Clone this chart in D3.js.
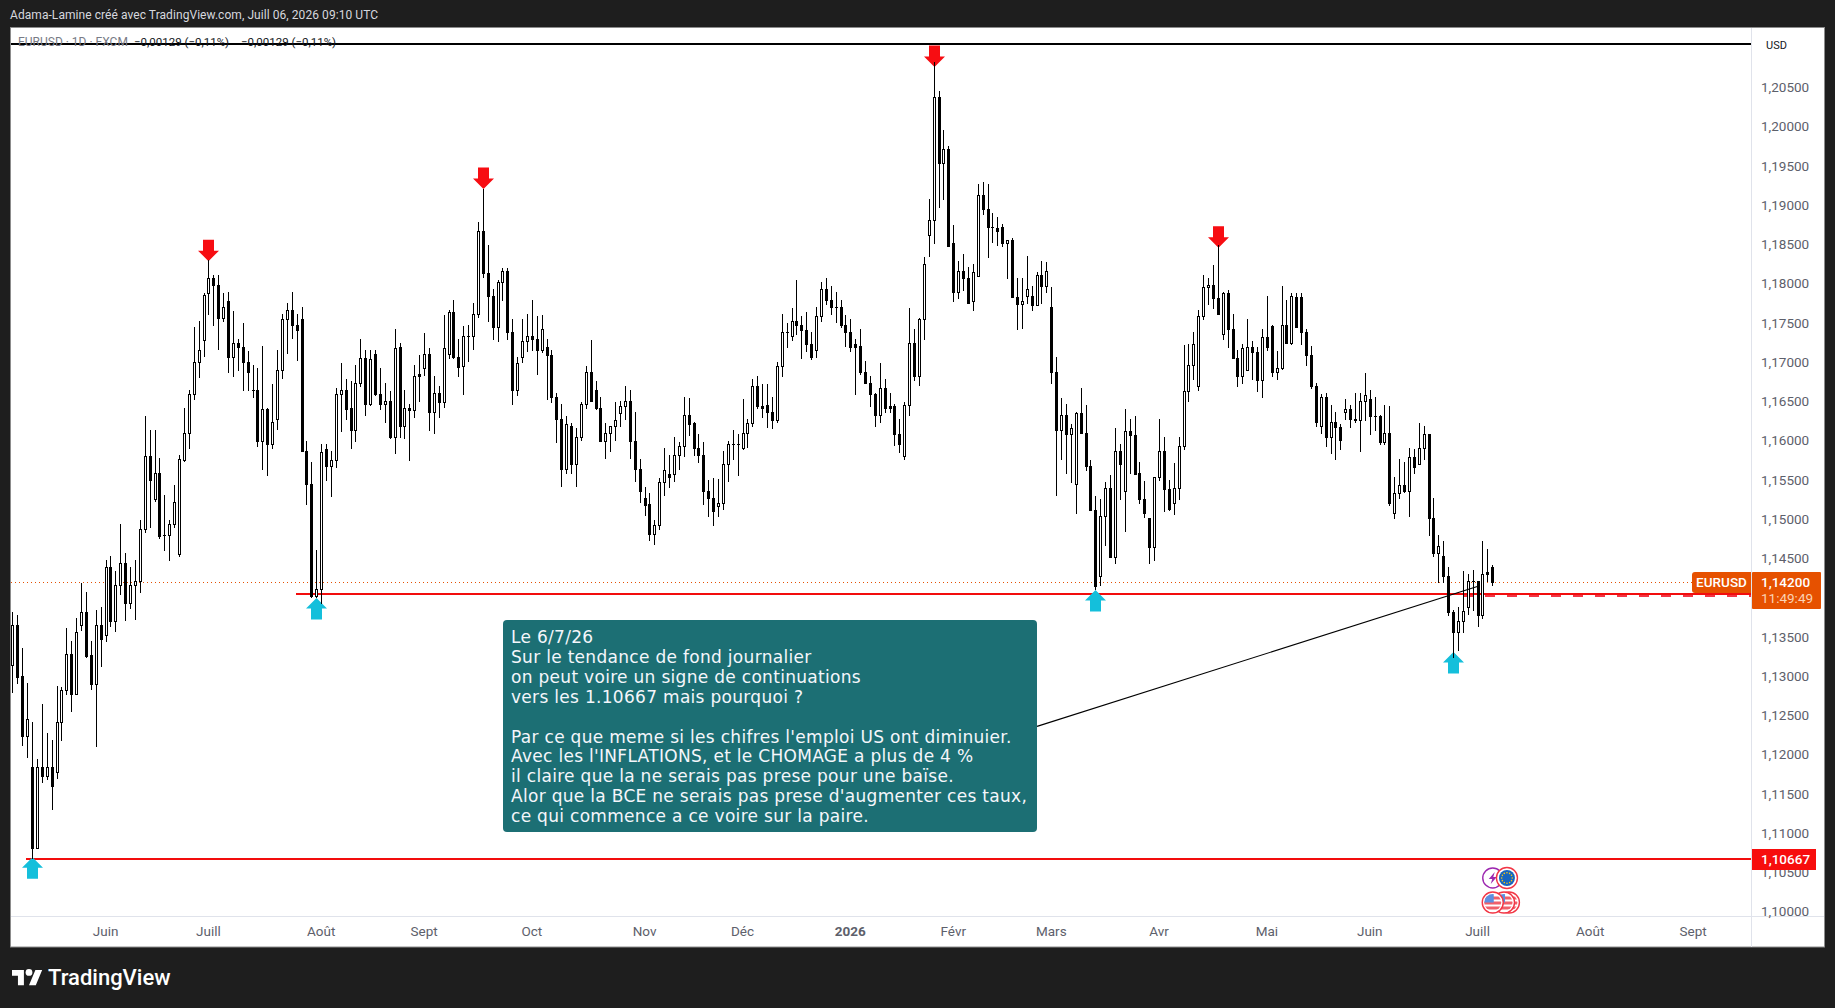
<!DOCTYPE html>
<html><head><meta charset="utf-8">
<script src="https://cdn.jsdelivr.net/npm/d3@7"></script>
<style>html,body{margin:0;padding:0;background:#1e1e1e;overflow:hidden}svg{display:block}</style>
</head><body><svg id="c" width="1835" height="1008"></svg>
<script>
// Daily EURUSD candles, prices in units of 0.0001
const highs=[11382,11378,11336,11292,11242,11194,11265,11228,11219,11288,
11286,11362,11345,11375,11419,11407,11345,11384,11389,11449,
11454,11435,11495,11457,11439,11448,11500,11632,11615,11615,
11579,11531,11500,11544,11582,11642,11666,11746,11754,11789,
11831,11812,11812,11789,11791,11766,11730,11751,11715,11698,
11693,11722,11643,11673,11717,11762,11776,11790,11762,11771,
11600,11573,11461,11597,11597,11588,11668,11700,11680,11677,
11698,11731,11716,11716,11716,11694,11675,11664,11744,11726,
11666,11648,11698,11710,11738,11719,11683,11670,11761,11767,
11781,11731,11747,11749,11776,11880,11922,11850,11794,11806,
11821,11821,11756,11708,11756,11762,11780,11760,11761,11731,
11716,11662,11648,11632,11623,11617,11650,11696,11729,11677,
11656,11623,11620,11650,11652,11670,11666,11638,11578,11542,
11534,11499,11553,11592,11583,11606,11599,11657,11655,11625,
11609,11599,11550,11553,11552,11587,11601,11614,11609,11654,
11628,11679,11683,11673,11673,11657,11701,11763,11751,11770,
11806,11760,11765,11739,11771,11803,11809,11798,11790,11781,
11761,11756,11730,11744,11703,11684,11662,11700,11679,11662,
11648,11628,11650,11770,11744,11757,11835,11909,12084,12047,
11998,11977,11876,11830,11839,11823,11827,11928,11931,11929,
11891,11886,11877,11857,11859,11808,11808,11836,11798,11816,
11830,11829,11797,11708,11655,11648,11622,11638,11668,11646,
11576,11530,11526,11548,11557,11617,11596,11641,11629,11632,
11573,11549,11502,11554,11628,11606,11550,11572,11606,11723,
11724,11740,11767,11812,11809,11825,11850,11791,11793,11763,
11717,11724,11756,11728,11721,11743,11786,11749,11715,11798,
11780,11789,11789,11789,11743,11722,11674,11661,11662,11646,
11637,11622,11654,11646,11662,11662,11687,11665,11656,11634,
11646,11645,11555,11578,11574,11591,11590,11623,11620,11609,
11528,11481,11473,11439,11384,11388,11434,11431,11436,11421,
11473,11463,11442];
const lows=[11280,11292,11212,11197,11068,11081,11165,11169,11131,11170,
11218,11278,11256,11278,11359,11324,11284,11211,11313,11345,
11364,11358,11405,11372,11387,11373,11407,11484,11490,11524,
11476,11461,11448,11491,11453,11575,11592,11654,11682,11709,
11763,11749,11718,11753,11688,11684,11691,11665,11666,11656,
11594,11564,11557,11592,11616,11681,11713,11732,11704,11587,
11520,11401,11401,11393,11551,11530,11567,11613,11628,11592,
11601,11670,11633,11646,11659,11641,11624,11604,11585,11605,
11604,11576,11631,11652,11685,11615,11610,11631,11644,11706,
11706,11684,11661,11703,11718,11759,11810,11753,11731,11728,
11781,11730,11647,11659,11701,11715,11717,11686,11714,11654,
11650,11599,11543,11559,11559,11543,11602,11642,11651,11641,
11600,11579,11587,11602,11620,11628,11579,11549,11523,11506,
11474,11469,11488,11531,11542,11549,11565,11581,11608,11583,
11573,11520,11504,11493,11504,11513,11549,11578,11557,11590,
11593,11619,11643,11631,11618,11617,11624,11684,11721,11729,
11737,11706,11715,11705,11708,11754,11775,11763,11752,11746,
11722,11715,11661,11686,11675,11645,11620,11624,11637,11637,
11595,11586,11578,11634,11678,11672,11730,11837,11853,11899,
11909,11849,11779,11783,11793,11777,11768,11811,11890,11835,
11855,11850,11849,11808,11784,11744,11745,11777,11768,11774,
11776,11791,11674,11532,11577,11560,11548,11509,11611,11563,
11512,11412,11416,11467,11452,11444,11526,11486,11559,11558,
11521,11503,11444,11449,11550,11511,11512,11507,11526,11590,
11652,11679,11666,11756,11775,11770,11762,11730,11721,11706,
11671,11675,11691,11679,11664,11657,11716,11683,11679,11692,
11725,11724,11746,11724,11697,11668,11619,11610,11594,11585,
11578,11590,11629,11618,11624,11588,11627,11609,11615,11597,
11597,11519,11502,11528,11535,11504,11559,11571,11577,11480,
11453,11420,11420,11378,11325,11334,11356,11380,11384,11364,
11374,11421,11417];
const opens=[11314,11366,11300,11224,11184,11081,11184,11173,11184,11178,
11241,11282,11328,11278,11365,11382,11327,11290,11366,11353,
11439,11370,11417,11444,11394,11417,11421,11488,11581,11526,
11560,11480,11480,11494,11456,11576,11610,11660,11701,11729,
11789,11808,11800,11758,11779,11708,11725,11721,11701,11665,
11665,11601,11641,11596,11628,11691,11756,11768,11748,11756,
11588,11546,11403,11412,11590,11568,11576,11660,11665,11643,
11615,11675,11706,11648,11711,11661,11647,11652,11606,11720,
11619,11643,11640,11686,11693,11712,11638,11662,11650,11711,
11765,11708,11696,11735,11735,11762,11869,11815,11786,11746,
11804,11817,11739,11666,11707,11728,11734,11731,11716,11721,
11710,11657,11629,11565,11619,11571,11606,11647,11688,11665,
11642,11600,11610,11619,11636,11645,11651,11601,11565,11528,
11520,11482,11493,11548,11558,11558,11583,11594,11633,11623,
11592,11582,11537,11528,11517,11521,11571,11596,11596,11592,
11610,11623,11671,11645,11646,11638,11627,11696,11739,11735,
11754,11748,11742,11724,11717,11760,11795,11780,11772,11772,
11749,11739,11724,11722,11689,11675,11660,11634,11668,11645,
11645,11609,11581,11646,11725,11683,11756,11863,11882,12040,
11955,11973,11853,11791,11818,11808,11779,11811,11915,11896,
11873,11872,11874,11853,11857,11784,11775,11786,11786,11774,
11812,11798,11772,11688,11614,11634,11609,11545,11636,11611,
11568,11512,11428,11505,11540,11452,11588,11536,11613,11608,
11559,11526,11502,11465,11554,11588,11539,11521,11541,11594,
11664,11698,11670,11760,11797,11800,11783,11737,11789,11743,
11706,11684,11691,11720,11714,11678,11733,11747,11688,11693,
11749,11725,11784,11784,11739,11710,11670,11619,11657,11605,
11624,11618,11637,11641,11628,11627,11651,11654,11632,11632,
11599,11611,11508,11534,11544,11536,11580,11571,11591,11609,
11502,11458,11454,11428,11382,11357,11370,11389,11422,11421,
11378,11433,11439];
const closes=[11366,11299,11224,11246,11081,11184,11173,11184,11160,11241,
11282,11328,11278,11357,11382,11326,11290,11366,11347,11439,
11370,11417,11444,11393,11417,11421,11488,11581,11551,11560,
11479,11480,11494,11522,11577,11610,11660,11701,11717,11787,
11808,11800,11758,11772,11708,11725,11721,11701,11689,11665,
11601,11641,11596,11625,11691,11756,11768,11748,11742,11588,
11546,11403,11412,11586,11568,11576,11660,11665,11641,11615,
11675,11706,11648,11705,11661,11647,11652,11606,11719,11619,
11643,11640,11684,11683,11712,11638,11662,11650,11719,11765,
11708,11695,11735,11735,11762,11869,11815,11786,11746,11804,
11817,11739,11666,11700,11728,11734,11731,11716,11743,11710,
11657,11629,11565,11622,11571,11606,11647,11688,11651,11642,
11600,11610,11619,11627,11645,11651,11601,11565,11536,11519,
11482,11493,11548,11563,11554,11583,11594,11633,11622,11592,
11582,11537,11528,11511,11521,11571,11596,11596,11596,11610,
11623,11671,11645,11642,11638,11627,11696,11739,11739,11754,
11748,11742,11724,11708,11760,11795,11780,11772,11772,11749,
11739,11720,11721,11689,11675,11660,11633,11668,11643,11643,
11609,11596,11646,11725,11683,11756,11827,11882,12040,11955,
11973,11849,11791,11818,11808,11777,11816,11915,11896,11873,
11873,11868,11853,11857,11784,11775,11779,11794,11774,11812,
11798,11817,11688,11614,11634,11609,11617,11636,11611,11568,
11512,11415,11505,11540,11452,11588,11571,11613,11608,11558,
11526,11508,11465,11554,11588,11539,11513,11541,11594,11664,
11698,11724,11760,11797,11800,11783,11763,11789,11743,11706,
11684,11719,11720,11714,11678,11733,11720,11688,11693,11749,
11725,11785,11746,11739,11710,11670,11625,11657,11605,11624,
11618,11602,11641,11628,11627,11651,11659,11632,11632,11599,
11611,11521,11534,11544,11536,11580,11567,11591,11609,11502,
11458,11466,11428,11382,11357,11370,11383,11422,11422,11378,
11431,11431,11420];
const priceTicks=[1.10,1.105,1.11,1.115,1.12,1.125,1.13,1.135,1.145,1.15,1.155,1.16,1.165,1.17,1.175,1.18,1.185,1.19,1.195,1.20,1.205];
const monthIndex=[19,40,63,84,106,129,149,171,192,212,234,256,277,299,322,343];
const monthLabels=["Juin","Juill","Août","Sept","Oct","Nov","Déc","2026","Févr","Mars","Avr","Mai","Juin","Juill","Août","Sept"];
const sellBars=[40,96,188,246];
const sellTips=[1.1830,1.1922,1.2078,1.1847];
const buyBars=[4,62,221,294];
const buyTips=[1.1069,1.1400,1.1410,1.1331];
const lastPrice=1.142, targetPrice=1.10667, supportPrice=1.1405, dashedPrice=1.1403, ceilingPrice=1.2107;
const noteLines=["Le 6/7/26","Sur le tendance de fond journalier","on peut voire un signe de continuations","vers les 1.10667 mais pourquoi ?","","Par ce que meme si les chifres l'emploi US ont diminuier.","Avec les l'INFLATIONS, et le CHOMAGE a plus de 4 %","il claire que la ne serais pas prese pour une baïse.","Alor que la BCE ne serais pas prese d'augmenter ces taux,","ce qui commence a ce voire sur la paire."];
const leaderBars=[209,299], leaderPrices=[1.1236,1.1415];

const FONT="Roboto, 'Noto Sans', sans-serif";
const svg=d3.select("#c");
const x=d3.scaleLinear().domain([0,302]).range([12.95,1492.75]);
const y=d3.scaleLinear().domain([1.10667,1.2]).range([859,128]);
const yLabels=d3.scaleLinear().domain([1.1,1.2]).range([911.5,126.5]);
const col=i=>Math.floor(x(i));
const pxY=p=>Math.round(y(p));
const candles=highs.map((h,i)=>({i,h:h/1e4,l:lows[i]/1e4,o:opens[i]/1e4,c:closes[i]/1e4}));

// frame
svg.append("rect").attr("width",1835).attr("height",1008).attr("fill","#1e1e1e");
svg.append("text").attr("x",10).attr("y",19).attr("fill","#d6d8de").attr("font-family",FONT).attr("font-size",12)
 .attr("textLength",368).text("Adama-Lamine créé avec TradingView.com, Juill 06, 2026 09:10 UTC");
svg.append("rect").attr("x",10.5).attr("y",27.5).attr("width",1814).attr("height",919.5).attr("fill","#fff").attr("stroke","#8c8c8c");
const g=svg.append("g").attr("shape-rendering","crispEdges");
g.append("line").attr("x1",1751.5).attr("x2",1751.5).attr("y1",28).attr("y2",947).attr("stroke","#e0e3eb");
g.append("line").attr("x1",11).attr("x2",1824).attr("y1",916.5).attr("y2",916.5).attr("stroke","#e0e3eb");

// price line
g.append("line").attr("x1",11).attr("x2",1692).attr("y1",pxY(lastPrice)+.5).attr("y2",pxY(lastPrice)+.5)
 .attr("stroke","#e65100").attr("stroke-dasharray","1 3");
// level lines
g.append("line").attr("x1",1463).attr("x2",1751).attr("y1",pxY(dashedPrice)).attr("y2",pxY(dashedPrice))
 .attr("stroke","#f23645").attr("stroke-width",2).attr("stroke-dasharray","10 12");
g.append("line").attr("x1",296).attr("x2",1751).attr("y1",pxY(supportPrice)).attr("y2",pxY(supportPrice)).attr("stroke","#f20d0d").attr("stroke-width",2);
g.append("line").attr("x1",26).attr("x2",1751).attr("y1",pxY(targetPrice)).attr("y2",pxY(targetPrice)).attr("stroke","#f20d0d").attr("stroke-width",2);

// arrows
const arrow=d3.line();
function arrowPts(cx,tip,dir){const s=dir;return [[cx,tip],[cx+10.5,tip+s*10.5],[cx+5.5,tip+s*10.5],[cx+5.5,tip+s*21.5],[cx-5.5,tip+s*21.5],[cx-5.5,tip+s*10.5],[cx-10.5,tip+s*10.5]];}
svg.selectAll(".sell").data(sellBars).join("path").attr("class","sell")
 .attr("d",(b,i)=>arrow(arrowPts(col(b)+.5,y(sellTips[i]),-1))+"Z").attr("fill","#f70d12");
svg.selectAll(".buy").data(buyBars).join("path").attr("class","buy")
 .attr("d",(b,i)=>arrow(arrowPts(col(b)+.5,y(buyTips[i]),1))+"Z").attr("fill","#14bfdb");

// candles
const cg=svg.append("g").attr("shape-rendering","crispEdges");
cg.selectAll(".w").data(candles).join("rect").attr("class","w")
 .attr("x",d=>col(d.i)).attr("width",1).attr("y",d=>pxY(d.h)).attr("height",d=>Math.max(1,pxY(d.l)-pxY(d.h)+1)).attr("fill","#000");
cg.selectAll(".b").data(candles).join("rect").attr("class","b")
 .attr("x",d=>col(d.i)-1).attr("width",3)
 .attr("y",d=>pxY(Math.max(d.o,d.c)))
 .attr("height",d=>Math.max(1,pxY(Math.min(d.o,d.c))-pxY(Math.max(d.o,d.c))+1)).attr("fill","#000");
cg.selectAll(".f").data(candles.filter(d=>d.c>d.o)).join("rect").attr("class","f")
 .attr("x",d=>col(d.i)).attr("width",1)
 .attr("y",d=>pxY(d.c)+1)
 .attr("height",d=>Math.max(0,pxY(d.o)-pxY(d.c)-1)).attr("fill","#fff");

// leader + note
svg.append("line").attr("x1",x(leaderBars[0])).attr("y1",y(leaderPrices[0])).attr("x2",x(leaderBars[1])).attr("y2",y(leaderPrices[1])).attr("stroke","#000").attr("stroke-width",1.1);
svg.append("rect").attr("x",503).attr("y",620).attr("width",534).attr("height",212).attr("rx",4).attr("fill","#1c6f74");
svg.selectAll(".nt").data(noteLines).join("text").attr("class","nt")
 .attr("x",511).attr("y",(d,i)=>643+i*19.9).attr("fill","#f4f6fb").attr("font-family","'DejaVu Sans',sans-serif").attr("font-size",17).attr("letter-spacing",.3).text(d=>d);

// legend
svg.append("text").attr("x",18).attr("y",46).attr("font-family",FONT).attr("font-size",12).attr("fill","#787b86").text("EURUSD · 1D · FXCM");
svg.append("text").attr("x",134).attr("y",46).attr("font-family",FONT).attr("font-size",11.5).attr("fill","#131722").text("−0,00129 (−0,11%)");
svg.append("text").attr("x",241).attr("y",46).attr("font-family",FONT).attr("font-size",11.5).attr("fill","#131722").text("−0,00129 (−0,11%)");
g.append("line").attr("x1",11).attr("x2",1751).attr("y1",pxY(ceilingPrice)).attr("y2",pxY(ceilingPrice)).attr("stroke","#000").attr("stroke-width",2);

// axes
const fmt=d=>d3.format(".5f")(d).replace(".",",");
const ya=svg.append("g").attr("transform","translate(1752,0)").call(d3.axisRight(yLabels).tickValues(priceTicks).tickSize(0).tickPadding(9).tickFormat(fmt));
ya.select(".domain").remove();
ya.selectAll("text").attr("fill","#5d606b").attr("font-family",FONT).attr("font-size",13.5);
const xa=svg.append("g").attr("transform","translate(-1,918.5)").call(d3.axisBottom(x).tickValues(monthIndex).tickSize(0).tickPadding(8).tickFormat((d,i)=>monthLabels[i]));
xa.select(".domain").remove();
xa.selectAll("text").attr("fill","#5d606b").attr("font-family",FONT).attr("font-size",13.5).attr("font-weight",(d,i)=>monthLabels[i]==="2026"?700:400);
svg.append("text").attr("x",1766).attr("y",49).attr("font-family",FONT).attr("font-size",11).attr("fill","#131722").text("USD");

// labels
svg.append("path").attr("d","M1695 572H1751V593H1695a3 3 0 0 1-3-3V575a3 3 0 0 1 3-3Z").attr("fill","#e65100");
svg.append("text").attr("x",1721.5).attr("y",587).attr("text-anchor","middle").attr("font-family",FONT).attr("font-size",13.5).attr("font-weight",500).attr("fill","#fff").text("EURUSD");
svg.append("rect").attr("x",1752).attr("y",572).attr("width",69).attr("height",37).attr("rx",1).attr("fill","#e65100");
svg.append("text").attr("x",1761).attr("y",587).attr("font-family",FONT).attr("font-size",13.5).attr("font-weight",500).attr("fill","#fff").text(fmt(lastPrice));
svg.append("text").attr("x",1761).attr("y",603).attr("font-family",FONT).attr("font-size",13.5).attr("fill","#fbd3b4").text("11:49:49");
svg.append("rect").attr("x",1752).attr("y",849).attr("width",64).attr("height",21).attr("fill","#f70d0d");
svg.append("text").attr("x",1761).attr("y",864).attr("font-family",FONT).attr("font-size",13.5).attr("font-weight",500).attr("fill","#fff").text(fmt(targetPrice));

// event icons
const defs=svg.append("defs");
defs.append("clipPath").attr("id","disc").append("circle").attr("r",8.5);
function usFlag(cx,cy){const f=svg.append("g").attr("transform",`translate(${cx},${cy})`);
 f.append("circle").attr("r",10.5).attr("fill","#fff").attr("stroke","#f23645").attr("stroke-width",1.4);
 const c=f.append("g").attr("clip-path","url(#disc)");
 c.append("rect").attr("x",-9).attr("y",-9).attr("width",18).attr("height",18).attr("fill","#fff");
 [-6,-1,4].forEach(s=>c.append("rect").attr("x",-9).attr("y",s).attr("width",18).attr("height",3).attr("fill","#f0606a"));
 c.append("rect").attr("x",-9).attr("y",-9).attr("width",10).attr("height",9).attr("fill","#5d8fe0");}
[x(305.3),x(304.3),x(302)].forEach(cx=>usFlag(cx,902.5));
const pu=svg.append("g").attr("transform",`translate(${x(302)},878)`);
pu.append("circle").attr("r",10).attr("fill","#fff").attr("stroke","#9c27b0").attr("stroke-width",1.4);
pu.append("path").attr("d","M2 -6L-4 1H-.5L-2 6L4 -1H.5Z").attr("fill","#9c27b0");
const eu=svg.append("g").attr("transform",`translate(${x(304.9)},878)`);
eu.append("circle").attr("r",10.5).attr("fill","#fff").attr("stroke","#f23645").attr("stroke-width",1.4);
eu.append("circle").attr("r",8).attr("fill","#1565c0");
d3.range(12).forEach(k=>eu.append("circle").attr("r",.8).attr("fill","#f5c518").attr("cx",5.3*Math.cos(k*Math.PI/6)).attr("cy",5.3*Math.sin(k*Math.PI/6)));

// footer
const logo=svg.append("g").attr("transform","translate(12,966.5) scale(.85)").attr("fill","#fff");
logo.append("path").attr("d","M14 22H7V11H0V4h14v18zM28 22h-8l7.5-18h8L28 22z");
logo.append("circle").attr("cx",20).attr("cy",7).attr("r",4);
svg.append("text").attr("x",48).attr("y",985).attr("font-family",FONT).attr("font-size",22).attr("font-weight",500).attr("fill","#fff").text("TradingView");
</script></body></html>
